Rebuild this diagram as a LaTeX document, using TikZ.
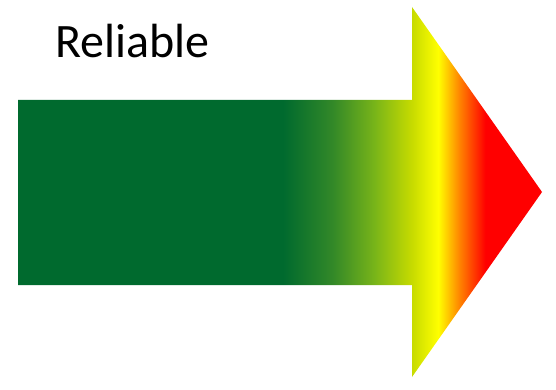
\documentclass[tikz,border=0pt]{standalone}
\usepackage{fontspec}
\setmainfont{Carlito}
\usetikzlibrary{positioning}
\definecolor{reldark}{RGB}{0,106,46}
\definecolor{relmid}{RGB}{50,136,40}
\definecolor{rellight}{RGB}{120,180,25}
\definecolor{relyg}{RGB}{199,219,0}
\pgfdeclarehorizontalshading{relshade}{100bp}{
  color(0bp)=(reldark); color(50.3bp)=(reldark); color(55bp)=(relmid);
  color(59bp)=(rellight); color(62.6bp)=(relyg); color(65.1bp)=(yellow);
  color(67.2bp)=(orange); color(69.6bp)=(red); color(100bp)=(red)}

\begin{document}
\begin{tikzpicture}[
    x=1pt, y=-1pt,
    every node/.style={font=\fontsize{48}{48}\selectfont},
    bigarrow/.style={shading=relshade, draw=none}
]
\useasboundingbox (0,0) rectangle (556,390);

% --- gradient arrow ---
\shade[bigarrow] (18,100) -- (412,100) -- (412,7) -- (542,192)
    -- (412,377) -- (412,285) -- (18,285) -- cycle;

% --- label ---
\node[anchor=base west, inner sep=0pt] (rel) at (55,58) {Reliable};

\end{tikzpicture}
\end{document}
